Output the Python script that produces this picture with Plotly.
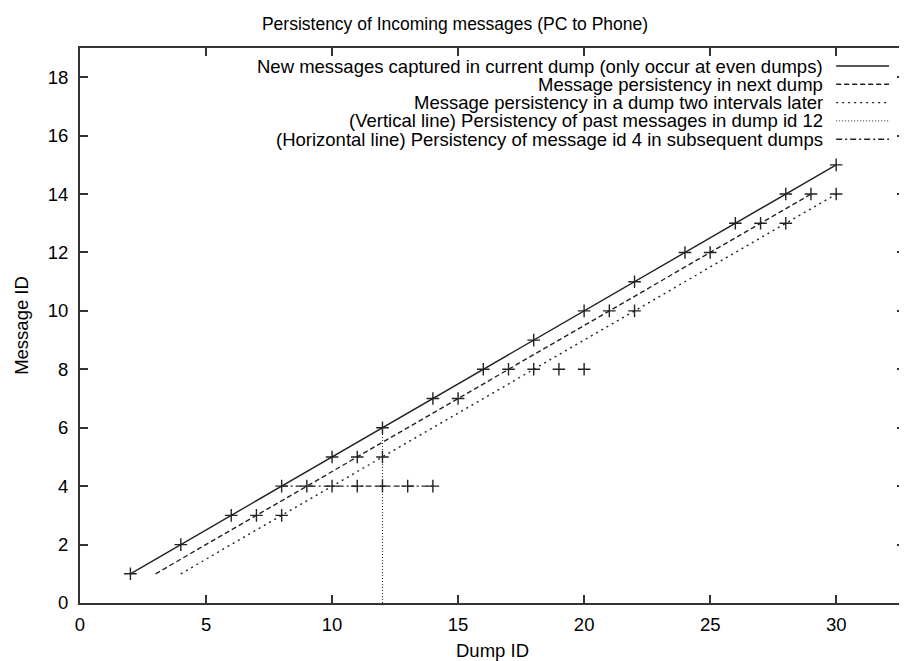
import plotly.graph_objects as go

# ---- data ----
dump_new = [2, 4, 6, 8, 10, 12, 14, 16, 18, 20, 22, 24, 26, 28, 30]
msg_new = [1, 2, 3, 4, 5, 6, 7, 8, 9, 10, 11, 12, 13, 14, 15]

dump_next = [3, 5, 7, 9, 11, 13, 15, 17, 19, 21, 23, 25, 27, 29]
msg_next = [1, 2, 3, 4, 5, 6, 7, 8, 9, 10, 11, 12, 13, 14]

dump_two = [4, 6, 8, 10, 12, 14, 16, 18, 20, 22, 24, 26, 28, 30]
msg_two = [1, 2, 3, 4, 5, 6, 7, 8, 9, 10, 11, 12, 13, 14]

dump_vert = [12, 12]
msg_vert = [0, 6]

dump_horiz = [8, 14]
msg_horiz = [4, 4]

obs_dump = [2, 4, 6, 8, 10, 12, 14, 16, 18, 20, 22, 24, 26, 28, 30,
            7, 9, 11, 15, 17, 21, 25, 27, 29,
            8, 12, 18, 22, 28, 30,
            10, 11, 12, 13, 14, 19, 20]
obs_msg = [1, 2, 3, 4, 5, 6, 7, 8, 9, 10, 11, 12, 13, 14, 15,
           3, 4, 5, 7, 8, 10, 12, 13, 14,
           3, 5, 8, 10, 13, 14,
           4, 4, 4, 4, 4, 8, 8]

series_names = [
    "New messages captured in current dump (only occur at even dumps)",
    "Message persistency in next dump",
    "Message persistency in a dump two intervals later",
    "(Vertical line) Persistency of past messages in dump id 12",
    "(Horizontal line) Persistency of message id 4 in subsequent dumps",
]
x_ticks = [0, 5, 10, 15, 20, 25, 30]
y_ticks = [0, 2, 4, 6, 8, 10, 12, 14, 16, 18]

# ---- styles ----
INK = "#222222"
FONT = "Liberation Sans, Arial, Helvetica, sans-serif"
dashes = ["solid", "5px,3px", "2px,4px", "1px,2px", "6px,3px,2px,3px"]
widths = [1.4, 1.4, 1.4, 1.0, 1.4]

# page has an 8px body margin; figure is sized to fit the 907x661 window
OFF = 8
FIG_W, FIG_H = 907 - OFF, 661 - OFF
plot_left, plot_right = 80 - OFF, FIG_W
plot_top, plot_bottom = 48 - OFF, 603 - OFF
pw = plot_right - plot_left
ph = plot_bottom - plot_top

xs = [dump_new, dump_next, dump_two, dump_vert, dump_horiz]
ys = [msg_new, msg_next, msg_two, msg_vert, msg_horiz]

fig = go.Figure()
for i in range(5):
    fig.add_trace(go.Scatter(
        x=xs[i], y=ys[i], mode="lines", name=series_names[i],
        line=dict(color=INK, width=widths[i], dash=dashes[i]),
        showlegend=False, hoverinfo="skip"))

fig.add_trace(go.Scatter(
    x=obs_dump, y=obs_msg, mode="markers", name="observed",
    marker=dict(symbol="cross-thin", size=9, color=INK,
                line=dict(color=INK, width=1.4)),
    showlegend=False))

# ---- gnuplot-style key (text right-aligned, sample on the right) ----
row_px = [66, 84.3, 102.6, 120.9, 139.2]
for i, name in enumerate(series_names):
    yp = (plot_bottom - (row_px[i] - OFF)) / ph
    fig.add_annotation(
        x=(826 - OFF - plot_left) / pw, y=yp, xref="paper", yref="paper",
        text=name, showarrow=False, xanchor="right", yanchor="middle",
        borderpad=0,
        font=dict(family=FONT, size=18.5, color="black"))
    fig.add_shape(
        type="line", xref="paper", yref="paper",
        x0=(838 - OFF - plot_left) / pw, x1=(891 - OFF - plot_left) / pw,
        y0=yp, y1=yp,
        line=dict(color=INK, width=widths[i], dash=dashes[i]))

axis_common = dict(
    showline=True, linecolor="#333333", linewidth=2, mirror="ticks",
    ticks="inside", ticklen=8, tickwidth=1.5, tickcolor="#333333",
    showgrid=False, zeroline=False,
    tickfont=dict(family=FONT, size=18.5, color="black"),
)

fig.update_layout(
    width=FIG_W, height=FIG_H,
    margin=dict(l=plot_left, r=0, t=plot_top, b=FIG_H - plot_bottom),
    paper_bgcolor="white", plot_bgcolor="white",
    font=dict(family=FONT, size=18.5, color="black"),
    title=dict(text="Persistency of Incoming messages (PC to Phone)",
               x=(455 - OFF) / FIG_W, xref="container", xanchor="center",
               y=1 - (24 - OFF) / FIG_H, yref="container", yanchor="middle",
               font=dict(family=FONT, size=17.5, color="black")),
    xaxis=dict(range=[0, 32.73], tickvals=x_ticks, ticklabelstandoff=4,
               title=dict(text="Dump ID", standoff=13,
                          font=dict(family=FONT, size=18.5)),
               **axis_common),
    yaxis=dict(range=[0, 19], tickvals=y_ticks, ticklabelstandoff=6,
               title=dict(text="Message ID", standoff=14,
                          font=dict(family=FONT, size=18.5)),
               **axis_common),
    showlegend=False,
)

fig.write_html("out.html")
